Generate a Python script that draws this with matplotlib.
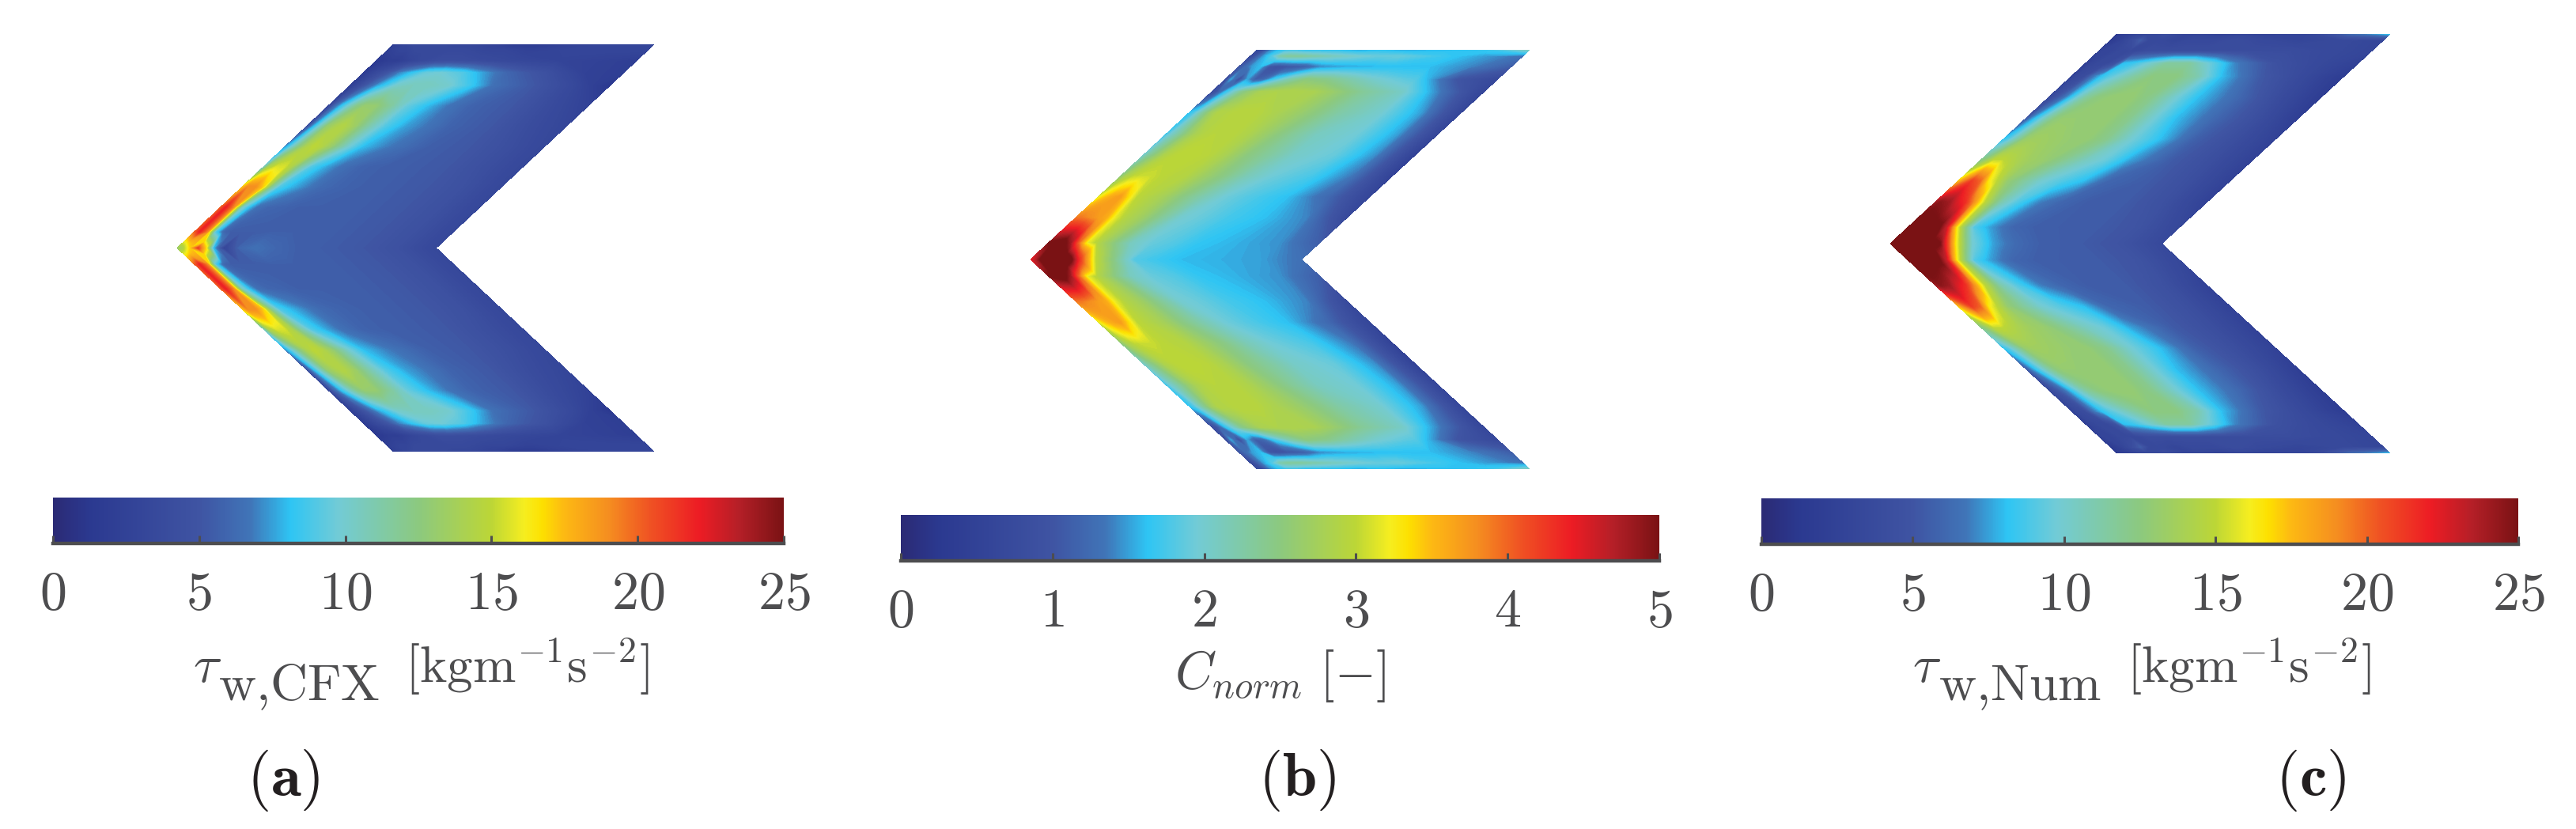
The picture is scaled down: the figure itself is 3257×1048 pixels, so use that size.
import numpy as np
import matplotlib
matplotlib.use("Agg")
import matplotlib.pyplot as plt
from matplotlib.cm import ScalarMappable
from matplotlib.colors import LinearSegmentedColormap, Normalize

plt.rcParams['mathtext.fontset'] = 'cm'
plt.rcParams['font.family'] = ['DejaVu Serif']

W, H = 3257, 1048
TEXT = '#4d4d4f'

# colormap
cmap_stops = [(0.0, '#2b2a75'), (0.05, '#2b3990'), (0.2, '#3f54a3'), (0.27, '#4075b8'),
              (0.325, '#2ec5f4'), (0.39, '#72cbd6'), (0.5, '#8cc97f'), (0.6, '#bcd636'),
              (0.645, '#f6ee1f'), (0.67, '#fde000'), (0.7, '#fdb913'), (0.76, '#f58e20'),
              (0.82, '#ef5023'), (0.885, '#ed1c24'), (0.94, '#b41f27'), (1.0, '#7a1214')]
cmap = LinearSegmentedColormap.from_list('cfd', cmap_stops, N=512)

# measuring rows: fraction of the arm from the centre line (0) to the top edge (1)
span = [0, .08, .2, .3, .4, .5, .6, .7, .8, .86, .92, .97, 1]
# measuring columns: fraction of the width from the outer edge (0) to the inner edge (1)
across = [0, .02, .05, .08, .11, .14, .18, .24, .3, .38, .46, .55, .7, .85, 1]

tau_cfx = [
    [13, 14, 17, 21, 17, 8, 3, 6, 6.5, 6, 5.6, 5.5, 5.2, 4.5, 3.2],
    [20, 22, 19, 9, 6, 5.5, 5.5, 5.5, 5.6, 5.6, 5.6, 5.5, 5.2, 4.5, 3.2],
    [20, 22, 19, 10.5, 8, 6.5, 6, 5.8, 5.6, 5.6, 5.6, 5.5, 5.2, 4.5, 3.2],
    [17, 19, 19, 17, 12, 9, 8, 7, 6.2, 5.8, 5.6, 5.5, 5.2, 4.5, 3.2],
    [10, 14, 15.5, 15.5, 14, 11.5, 9, 7.6, 6.5, 5.8, 5.6, 5.5, 5.2, 4.3, 3.2],
    [7, 9, 12, 14, 15, 14.5, 13, 10, 8, 7, 6.3, 5.6, 5.2, 4.3, 3.2],
    [4, 7, 10, 13, 14, 14.5, 13.5, 11, 9, 7.5, 6.7, 5.8, 5.2, 4, 3],
    [3, 5.5, 8, 10, 12, 13, 13, 11.5, 9.5, 8, 6.7, 5.8, 5.2, 3.8, 2.5],
    [2, 3, 4.5, 6, 7.5, 8.5, 10, 10.5, 10.5, 10, 8.5, 6.5, 5.2, 3.5, 1.2],
    [1.5, 2.5, 3.5, 4.5, 5.5, 7, 8, 9.5, 9.8, 9, 7.5, 6, 4.5, 2.5, 2],
    [1.5, 1.5, 2, 2, 2.5, 3, 3.5, 4, 4, 3.8, 3.5, 3.2, 2.8, 2.5, 2],
    [2, 2.5, 3, 3, 3.5, 3.5, 3.5, 3.5, 3.5, 3, 3, 2.5, 3, 3, 3],
    [2, 2.5, 3, 3.5, 3.5, 3.5, 3.5, 3, 3, 2.5, 1.5, 1.5, 2.5, 3, 3],
]

c_norm = [
    [4.4, 4.7, 5.3, 5.6, 5.6, 5.3, 4.3, 3.0, 2.5, 1.8, 1.7, 1.6, 1.55, 1.5, 1.3],
    [5.0, 5.1, 5.2, 4.8, 4, 3.2, 2.9, 2.5, 2.1, 1.9, 1.8, 1.65, 1.55, 1.45, 1.1],
    [3.9, 3.9, 3.8, 3.7, 3.6, 3.2, 2.9, 2.7, 2.4, 2.0, 1.9, 1.75, 1.6, 1.4, .7],
    [3.1, 3.4, 3.6, 3.7, 3.35, 3.0, 2.9, 2.75, 2.5, 2.2, 1.95, 1.8, 1.6, 1.2, .6],
    [2.5, 2.8, 3.0, 3.05, 3.05, 3, 2.95, 2.9, 2.7, 2.45, 2.15, 1.95, 1.75, 1.35, .5],
    [2.0, 2.3, 2.6, 2.85, 2.95, 3, 3, 2.95, 2.8, 2.5, 2.3, 2.05, 1.9, 1.45, .5],
    [1.7, 2.0, 2.3, 2.6, 2.8, 2.9, 2.95, 2.95, 2.85, 2.6, 2.35, 2.1, 1.95, 1.5, .6],
    [1.6, 1.8, 2.3, 2.7, 2.9, 2.9, 2.95, 2.95, 2.85, 2.7, 2.5, 2.25, 2, 1.5, .6],
    [.8, 1, 1.6, 2, 2.4, 2.6, 2.8, 2.85, 2.85, 2.8, 2.6, 2.35, 2.05, 1.3, .6],
    [.7, 1.5, .9, 1.5, 1.1, 1.2, 1.7, 2.2, 2.5, 2.4, 2.2, 2.0, 1.8, 1, .7],
    [1, 1.2, 1.5, 1.6, 1.0, .9, 1.0, 1.1, 1.4, 1.5, 1.55, 1.6, 1.6, 1.4, 1.1],
    [.6, 1.0, 1.5, 1.8, 2.2, 2.3, 2.3, 2.2, 2.1, 2.0, 1.9, 1.9, 1.7, 1.5, 1.3],
    [.8, .8, 1.4, 1.6, 1.7, 1.7, 1.6, 1.6, 1.6, 1.5, 1.6, 1.5, 1.6, 1.7, 2.1],
]

tau_num = [
    [26, 26, 26, 26, 26, 26, 25.5, 16.5, 10, 7.5, 6.2, 5.6, 5.4, 4.8, 3.5],
    [26, 26, 26, 26, 25.5, 23, 16, 9, 7.5, 6, 5.6, 5.5, 5.4, 4.8, 3.2],
    [24, 24.5, 24, 22.5, 21.5, 19, 15, 11, 9, 7, 6, 5.5, 5.4, 4.4, 2.5],
    [17, 19, 21, 20, 16.5, 15, 13, 11.5, 10, 9, 8, 6, 5.4, 4.3, 2.5],
    [12, 13, 15, 15, 14.5, 14, 13.5, 13, 12, 10.5, 9.5, 7.5, 5.4, 4.2, 2.5],
    [8, 9, 11, 13, 13.5, 13.5, 13.3, 13, 13, 12, 10, 8.5, 5.7, 4.2, 2.5],
    [5, 7, 9, 11, 12.5, 13, 13, 13, 13, 12, 10, 8, 6, 4.2, 2],
    [3.5, 4.5, 6, 8, 10, 11.5, 12.5, 13, 13, 12, 10, 8, 6, 3.8, 1.8],
    [2.5, 3.5, 4, 6.5, 8, 9, 10, 11.5, 12.5, 12.5, 11, 8, 5.2, 3.5, 1.8],
    [2, 3, 3.5, 3.5, 4.5, 8, 8.5, 10, 11.5, 11.5, 9.5, 7, 4.5, 3.5, 2.5],
    [2.5, 3, 3, 3.5, 3.5, 3.5, 4, 4, 4, 4, 4, 4, 4, 3.5, 3],
    [1.5, 2, 3, 4, 5.5, 3.5, 3.5, 3, 3.5, 3.5, 4, 3.5, 3, 3.5, 3],
    [1.5, 2, 2.5, 3, 3, 3.5, 4, 3, 3, 2.5, 3, 2.5, 3, 6, 8],
]

ticks_tau = [0, 5, 10, 15, 20, 25]
ticks_c = [0, 1, 2, 3, 4, 5]

sub_cfx = r'$\mathrm{w{,}CFX}$'
sub_num = r'$\mathrm{w{,}Num}$'
unit_tau = r'$[\mathrm{kgm}^{-1}\mathrm{s}^{-2}]$'
label_c = r'$C_{norm}\ [-]$'

# chevron outline, in panel units
TOP_LEFT = 0.454
NOTCH = 0.543


def px_axes(fig, left, top, right, bottom):
    return fig.add_axes([left / W, 1 - bottom / H, (right - left) / W, (bottom - top) / H])


def px_text(fig, x, y, s, **kw):
    fig.text(x / W, 1 - y / H, s, **kw)


def draw_field(ax, values, vmax):
    rows = np.array(span)
    cols = np.array(across)
    z = np.array(values, dtype=float)
    # lower arm is the mirror of the upper one
    y = np.concatenate([-rows[::-1], rows[1:]])
    z = np.vstack([z[::-1], z[1:]])
    outer = np.abs(y) * TOP_LEFT
    inner = NOTCH + np.abs(y) * (1 - NOTCH)
    xx = outer[:, None] + cols[None, :] * (inner - outer)[:, None]
    yy = np.repeat(y[:, None], len(cols), axis=1)
    ax.contourf(xx, yy, z, levels=np.linspace(0, vmax, 201), cmap=cmap, extend='both',
                antialiased=False)
    ax.set_xlim(0, 1)
    ax.set_ylim(-1, 1)
    ax.axis('off')


def draw_bar(fig, box, ticks, vmax):
    cax = px_axes(fig, *box)
    sm = ScalarMappable(norm=Normalize(0, vmax), cmap=cmap)
    cb = fig.colorbar(sm, cax=cax, orientation='horizontal', ticks=ticks)
    cb.outline.set_visible(False)
    cax.spines['bottom'].set_visible(True)
    cax.spines['bottom'].set_linewidth(3.2)
    cax.spines['bottom'].set_color(TEXT)
    cax.set_xticklabels([f'${v}$' for v in ticks])
    cax.tick_params(axis='x', direction='in', length=7, width=2.2, color=TEXT,
                    labelcolor=TEXT, labelsize=49, pad=23)
    return cax


def tau_label(fig, x_tau, x_sub, x_unit, sub):
    base_kw = dict(color=TEXT, va='baseline', ha='left')
    px_text(fig, x_tau, 862, r'$\tau$', fontsize=48, **base_kw)
    px_text(fig, x_sub, 885, sub, fontsize=47, **base_kw)
    px_text(fig, x_unit, 862, unit_tau, fontsize=47, **base_kw)


fig = plt.figure(figsize=(W / 100, H / 100), dpi=100)

draw_field(px_axes(fig, 224, 56, 827, 571), tau_cfx, 25)
draw_field(px_axes(fig, 1303, 63, 1934, 593), c_norm, 5)
draw_field(px_axes(fig, 2390, 43, 3022, 573), tau_num, 25)

draw_bar(fig, (67, 629, 991, 687), ticks_tau, 25)
cax_b = draw_bar(fig, (1139, 651, 2098, 709), ticks_c, 5)
draw_bar(fig, (2227, 630, 3184, 688), ticks_tau, 25)

tau_label(fig, 244, 276, 512, sub_cfx)
tau_label(fig, 2418, 2451, 2689, sub_num)
cax_b.set_xlabel(label_c, fontsize=48, color=TEXT, labelpad=9)

for name, xp in [('a', 358), ('b', 1640), ('c', 2922)]:
    px_text(fig, xp, 987, rf'$\mathrm{{(}}\mathbf{{{name}}}\mathrm{{)}}$', fontsize=56,
            color='#231f20', ha='center', va='center')

fig.savefig('out.png', dpi=100)
print("Plot saved to out.png")
